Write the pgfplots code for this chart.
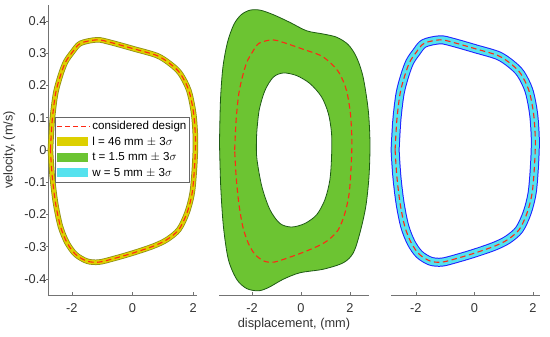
\documentclass[border=0pt]{standalone}
\usepackage{pgfplots}
\pgfplotsset{compat=1.18}
\usepackage{pgfplotstable}
\usepackage{fontspec}
\setmainfont{Liberation Sans}
\definecolor{myyellow}{RGB}{221,208,0}
\definecolor{myolive}{RGB}{140,140,20}
\definecolor{mygreen}{RGB}{108,196,50}
\definecolor{mydkgreen}{RGB}{30,90,20}
\definecolor{mycyan}{RGB}{85,226,238}
\definecolor{myblue}{RGB}{30,30,255}
\definecolor{myred}{RGB}{255,40,20}

\pgfplotstableread{
x y
-2.71 0
-2.65 0.093
-2.54 0.175
-2.38 0.231
-2.21 0.273
-1.99 0.303
-1.72 0.331
-1.17 0.342
-0.73 0.334
0.04 0.314
0.81 0.293
1.25 0.267
1.58 0.237
1.86 0.185
2.02 0.113
2.08 0.031
2.05 -0.051
1.97 -0.134
1.80 -0.195
1.53 -0.247
1.14 -0.278
0.70 -0.298
0.04 -0.319
-0.62 -0.337
-1.11 -0.348
-1.50 -0.345
-1.88 -0.324
-2.16 -0.288
-2.38 -0.237
-2.54 -0.165
-2.65 -0.082
-2.71 0
}\design

\pgfplotstableread{
x y
-3.33 0.021
-3.29 0.154
-3.19 0.257
-3.00 0.335
-2.74 0.390
-2.44 0.420
-2.08 0.434
-1.67 0.434
-1.13 0.420
-0.45 0.396
0.23 0.370
0.91 0.360
1.46 0.350
1.93 0.327
2.27 0.288
2.54 0.226
2.75 0.123
2.82 0.021
2.78 -0.082
2.65 -0.175
2.41 -0.257
2.14 -0.319
1.73 -0.350
0.91 -0.370
-0.04 -0.381
-0.72 -0.401
-1.33 -0.427
-1.74 -0.437
-2.22 -0.430
-2.63 -0.401
-2.97 -0.339
-3.17 -0.237
-3.28 -0.113
-3.33 0.021
}\outerT

\pgfplotstableread{
x y
-1.81 0.051
-1.71 0.123
-1.47 0.185
-1.13 0.226
-0.72 0.239
-0.18 0.231
0.37 0.206
0.84 0.165
1.12 0.113
1.25 0.051
1.25 -0.021
1.18 -0.093
0.98 -0.154
0.64 -0.201
0.16 -0.228
-0.38 -0.239
-0.86 -0.228
-1.27 -0.185
-1.60 -0.113
-1.81 -0.021
-1.81 0.051
}\innerT

\pgfplotsset{
  base/.style={
    scale only axis, height=290pt, ymin=-0.45, ymax=0.45,
    axis x line=bottom,
    axis line style={-, draw=black!55, line width=0.7pt},
    x axis line style={-}, y axis line style={-},
    tick align=inside, major tick length=3pt,
    tick style={draw=black!55, line width=0.6pt},
    xtick={-2,0,2}, xticklabels={-2,0,2},
    ticklabel style={font=\fontsize{12.8}{14}\selectfont, text=black!80},
    xticklabel style={yshift=-5pt},
    yticklabel style={xshift=3.5pt},
    label style={font=\fontsize{12.8}{14}\selectfont, text=black!80},
    clip=false,
  },
  dsgn/.style={smooth, tension=0.5, myred, line width=1.1pt, dash pattern=on 5.5pt off 3.5pt},
}

\begin{document}
\begin{tikzpicture}
\path[use as bounding box] (0pt,0pt) rectangle (550pt,337pt);

% panel 1
\begin{axis}[base, at={(48pt,42pt)}, anchor=south west, width=149pt,
  xmin=-2.79, xmax=2.13,
  axis y line=left, y axis line style={-},
  ytick={-0.4,-0.3,-0.2,-0.1,0,0.1,0.2,0.3,0.4},
  yticklabels={-0.4,-0.3,-0.2,-0.1,0,0.1,0.2,0.3,0.4},
  ylabel={velocity, (m/s)},
  ylabel style={at={(axis description cs:-0.26,0.5)}, anchor=center},
  legend style={at={(axis description cs:0.047,0.614)}, anchor=north west,
    draw=black!60, fill=white, font=\fontsize{11.6}{13}\selectfont,
    inner sep=1.5pt, row sep=0pt,
    nodes={inner sep=1.5pt, text height=9.5pt, text depth=3pt},
    /tikz/every even column/.append style={column sep=0pt}},
  legend cell align=left,
]
\addlegendimage{draw=myred, line width=1.1pt, dash pattern=on 5pt off 3pt,
  legend image code/.code={\draw[draw=myred] (0pt,0pt) -- (33pt,0pt);}}
\addlegendentry{considered design}
\addlegendimage{fill=myyellow, draw=none, legend image code/.code={\path[fill=myyellow, draw=none] (0pt,-4.5pt) rectangle (31pt,4.5pt);}}
\addlegendentry{l = 46 mm $\pm$ 3$\sigma$}
\addlegendimage{fill=mygreen, draw=none, legend image code/.code={\path[fill=mygreen, draw=none] (0pt,-4.5pt) rectangle (31pt,4.5pt);}}
\addlegendentry{t = 1.5 mm $\pm$ 3$\sigma$}
\addlegendimage{fill=mycyan, draw=none, legend image code/.code={\path[fill=mycyan, draw=none] (0pt,-4.5pt) rectangle (31pt,4.5pt);}}
\addlegendentry{w = 5 mm $\pm$ 3$\sigma$}
\addplot[forget plot, smooth, tension=0.5, myolive, line width=5.5pt, line join=round, line cap=round] table {\design};
\addplot[forget plot, smooth, tension=0.5, myyellow, line width=4pt, line join=round, line cap=round] table {\design};
\addplot[forget plot, dsgn] table {\design};
\end{axis}

% panel 2
\begin{axis}[base, at={(219pt,42pt)}, anchor=south west, width=150pt,
  xmin=-3.35, xmax=2.78, axis y line=none,
  xlabel={displacement, (mm)},
  xlabel style={at={(axis description cs:0.5,-0.1)}, anchor=center},
]
\addplot[smooth, tension=0.5, fill=mygreen, draw=mydkgreen, line width=0.8pt] table {\outerT};
\addplot[smooth, tension=0.5, fill=white, draw=mydkgreen, line width=0.8pt] table {\innerT};
\addplot[dsgn] table {\design};
\end{axis}

% panel 3
\begin{axis}[base, at={(391pt,42pt)}, anchor=south west, width=149pt,
  xmin=-2.85, xmax=2.24, axis y line=none,
]
\addplot[smooth, tension=0.5, myblue, line width=9pt, line join=round, line cap=round] table {\design};
\addplot[smooth, tension=0.5, mycyan, line width=7pt, line join=round, line cap=round] table {\design};
\addplot[dsgn] table {\design};
\end{axis}
\end{tikzpicture}
\end{document}
